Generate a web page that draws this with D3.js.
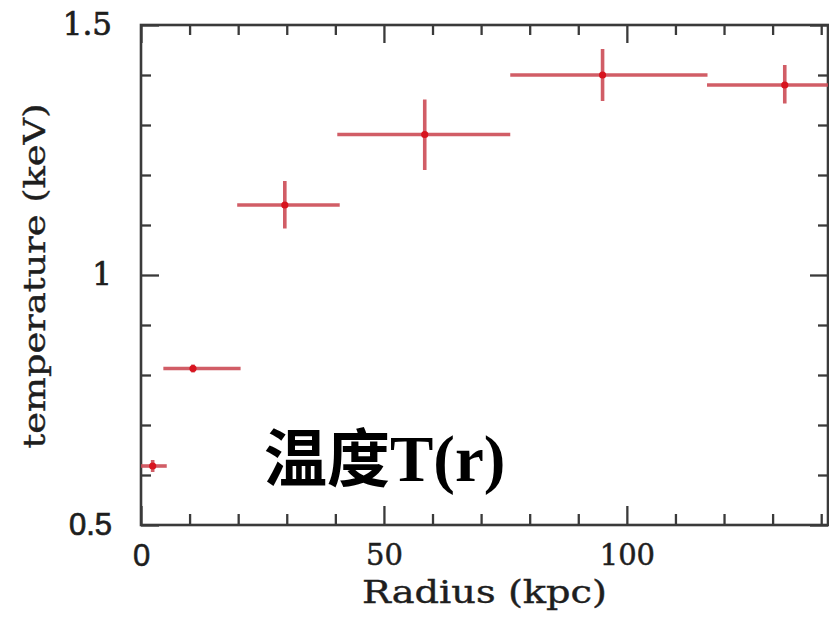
<!DOCTYPE html>
<html>
<head>
<meta charset="utf-8">
<script src="https://cdn.jsdelivr.net/npm/d3@7"></script>
<style>
  html, body { margin: 0; padding: 0; background: #fff; }
  svg { display: block; }
</style>
</head>
<body>
<svg id="chart" width="829" height="625"></svg>
<script>
// Radial temperature profile: bin centres, bin edges and 1-sigma errors
const radius   = [2.4, 10.7, 29.6, 58.4, 95.0, 132.5];
const radiusLo = [0.0, 4.6, 19.8, 40.4, 76.0, 116.5];
const radiusHi = [5.3, 20.5, 40.9, 76.0, 116.6, 150.0];
const temp     = [0.618, 0.813, 1.140, 1.281, 1.400, 1.380];
const tempErrLo = [0.012, 0.008, 0.047, 0.071, 0.052, 0.037];
const tempErrHi = [0.012, 0.008, 0.048, 0.070, 0.052, 0.040];

const xTicks = d3.range(0, 141, 10);
const xMajor = [0, 50, 100];
const yTicks = d3.range(5, 16).map(d => d / 10);
const yMajor = [0.5, 1, 1.5];

const xTitle = "Radius (kpc)";
const yTitle = "temperature (keV)";
const overlayTitle = ["温度", "T(r)"];

const svg = d3.select("#chart");
const plotL = 141, plotR = 828, plotT = 25, plotB = 525;

const x = d3.scaleLinear().domain([0, 141.4]).range([plotL, plotR]);
const y = d3.scaleLinear().domain([0.5, 1.5]).range([plotB, plotT]);

const frameColor = "#3a3a3a";
const textColor = "#1e1e1e";
const serif = "'DejaVu Serif', serif";
const sans = "'Liberation Sans', Arial, sans-serif";

const isMajorX = d => xMajor.some(m => Math.abs(m - d) < 1e-9);
const isMajorY = d => yMajor.some(m => Math.abs(m - d) < 1e-9);

function styleAxis(g, majorFn, majorLen, minorLen, sign, horizontal) {
  g.select(".domain").remove();
  g.selectAll(".tick line")
    .attr("stroke", frameColor)
    .attr("stroke-width", 2.3)
    .each(function(d) {
      const len = (majorFn(d) ? majorLen : minorLen) * sign;
      if (horizontal) d3.select(this).attr("x2", len).attr("y2", 0);
      else d3.select(this).attr("y2", len).attr("x2", 0);
    });
}

// Slightly heavier glyphs for the axis text
function inkText(sel, w) {
  sel.attr("fill", textColor).attr("stroke", textColor).attr("stroke-width", w);
}

// Bottom axis (ticks point inward, labels below)
const gBottom = svg.append("g").attr("transform", `translate(0,${plotB})`)
  .call(d3.axisBottom(x).tickValues(xTicks).tickSizeInner(0).tickSizeOuter(0).tickPadding(19)
    .tickFormat(d => isMajorX(d) ? d3.format("d")(d) : ""));
styleAxis(gBottom, isMajorX, 19, 11, -1, false);
gBottom.selectAll(".tick text")
  .call(inkText, 0.5)
  .style("font-family", d => d === 0 ? sans : serif)
  .style("font-size", d => d === 0 ? "31px" : "29px");

// Top axis (ticks hang down)
const gTop = svg.append("g").attr("transform", `translate(0,${plotT})`)
  .call(d3.axisTop(x).tickValues(xTicks).tickSizeInner(0).tickSizeOuter(0).tickFormat(""));
styleAxis(gTop, isMajorX, 18, 10, 1, false);

// Left axis
const gLeft = svg.append("g").attr("transform", `translate(${plotL},0)`)
  .call(d3.axisLeft(y).tickValues(yTicks).tickSizeInner(0).tickSizeOuter(0).tickPadding(29)
    .tickFormat(d => isMajorY(d) ? d3.format("")(d) : ""));
styleAxis(gLeft, isMajorY, 18, 10, 1, true);
gLeft.selectAll(".tick text")
  .call(inkText, 0.7)
  .style("font-family", d => d === 0.5 ? sans : serif)
  .style("font-size", d => d === 0.5 ? "31px" : "31px");

// Right axis
const gRight = svg.append("g").attr("transform", `translate(${plotR},0)`)
  .call(d3.axisRight(y).tickValues(yTicks).tickSizeInner(0).tickSizeOuter(0).tickFormat(""));
styleAxis(gRight, isMajorY, 18, 10, -1, true);

// Frame
svg.append("rect")
  .attr("x", plotL).attr("y", plotT)
  .attr("width", plotR - plotL).attr("height", plotB - plotT)
  .attr("fill", "none").attr("stroke", frameColor).attr("stroke-width", 2.6);

// Axis titles
svg.append("text")
  .attr("x", 362).attr("y", 603)
  .attr("textLength", 245).attr("lengthAdjust", "spacingAndGlyphs")
  .style("font-family", serif).style("font-size", "31px")
  .call(inkText, 0.4)
  .text(xTitle);

svg.append("text")
  .attr("transform", "translate(45,276) rotate(-90)")
  .attr("text-anchor", "middle")
  .attr("textLength", 345).attr("lengthAdjust", "spacingAndGlyphs")
  .style("font-family", serif).style("font-size", "29px")
  .call(inkText, 0.4)
  .text(yTitle);

// Error crosses, clipped to the plot frame
svg.append("clipPath").attr("id", "plotClip")
  .append("rect").attr("x", plotL).attr("y", plotT)
  .attr("width", plotR - plotL).attr("height", plotB - plotT);

const pts = radius.map((r, i) => ({
  r, lo: radiusLo[i], hi: radiusHi[i], t: temp[i], tl: tempErrLo[i], th: tempErrHi[i]
}));

const marks = svg.append("g").attr("clip-path", "url(#plotClip)");
const barColor = "#cc4b55";

marks.selectAll("line.xerr").data(pts).join("line")
  .attr("class", "xerr")
  .attr("x1", d => x(d.lo)).attr("x2", d => x(d.hi))
  .attr("y1", d => y(d.t)).attr("y2", d => y(d.t))
  .attr("stroke", barColor).attr("stroke-width", 3.6).attr("stroke-opacity", 0.9);

marks.selectAll("line.yerr").data(pts).join("line")
  .attr("class", "yerr")
  .attr("x1", d => x(d.r)).attr("x2", d => x(d.r))
  .attr("y1", d => y(d.t - d.tl)).attr("y2", d => y(d.t + d.th))
  .attr("stroke", barColor).attr("stroke-width", 3.6).attr("stroke-opacity", 0.9);

marks.selectAll("circle.pt").data(pts).join("circle")
  .attr("class", "pt")
  .attr("cx", d => x(d.r)).attr("cy", d => y(d.t))
  .attr("r", 3.6).attr("fill", "#d8141f");

// Overlay title
const title = svg.append("text").attr("x", 264).attr("y", 481).attr("fill", "#000");
title.append("tspan")
  .style("font-family", "'Noto Sans CJK SC', sans-serif").style("font-weight", "700")
  .style("font-size", "63px")
  .text(overlayTitle[0]);
title.append("tspan")
  .style("font-family", "'Liberation Serif', 'Times New Roman', serif").style("font-weight", "700")
  .style("font-size", "65px")
  .text(overlayTitle[1]);
</script>
</body>
</html>
